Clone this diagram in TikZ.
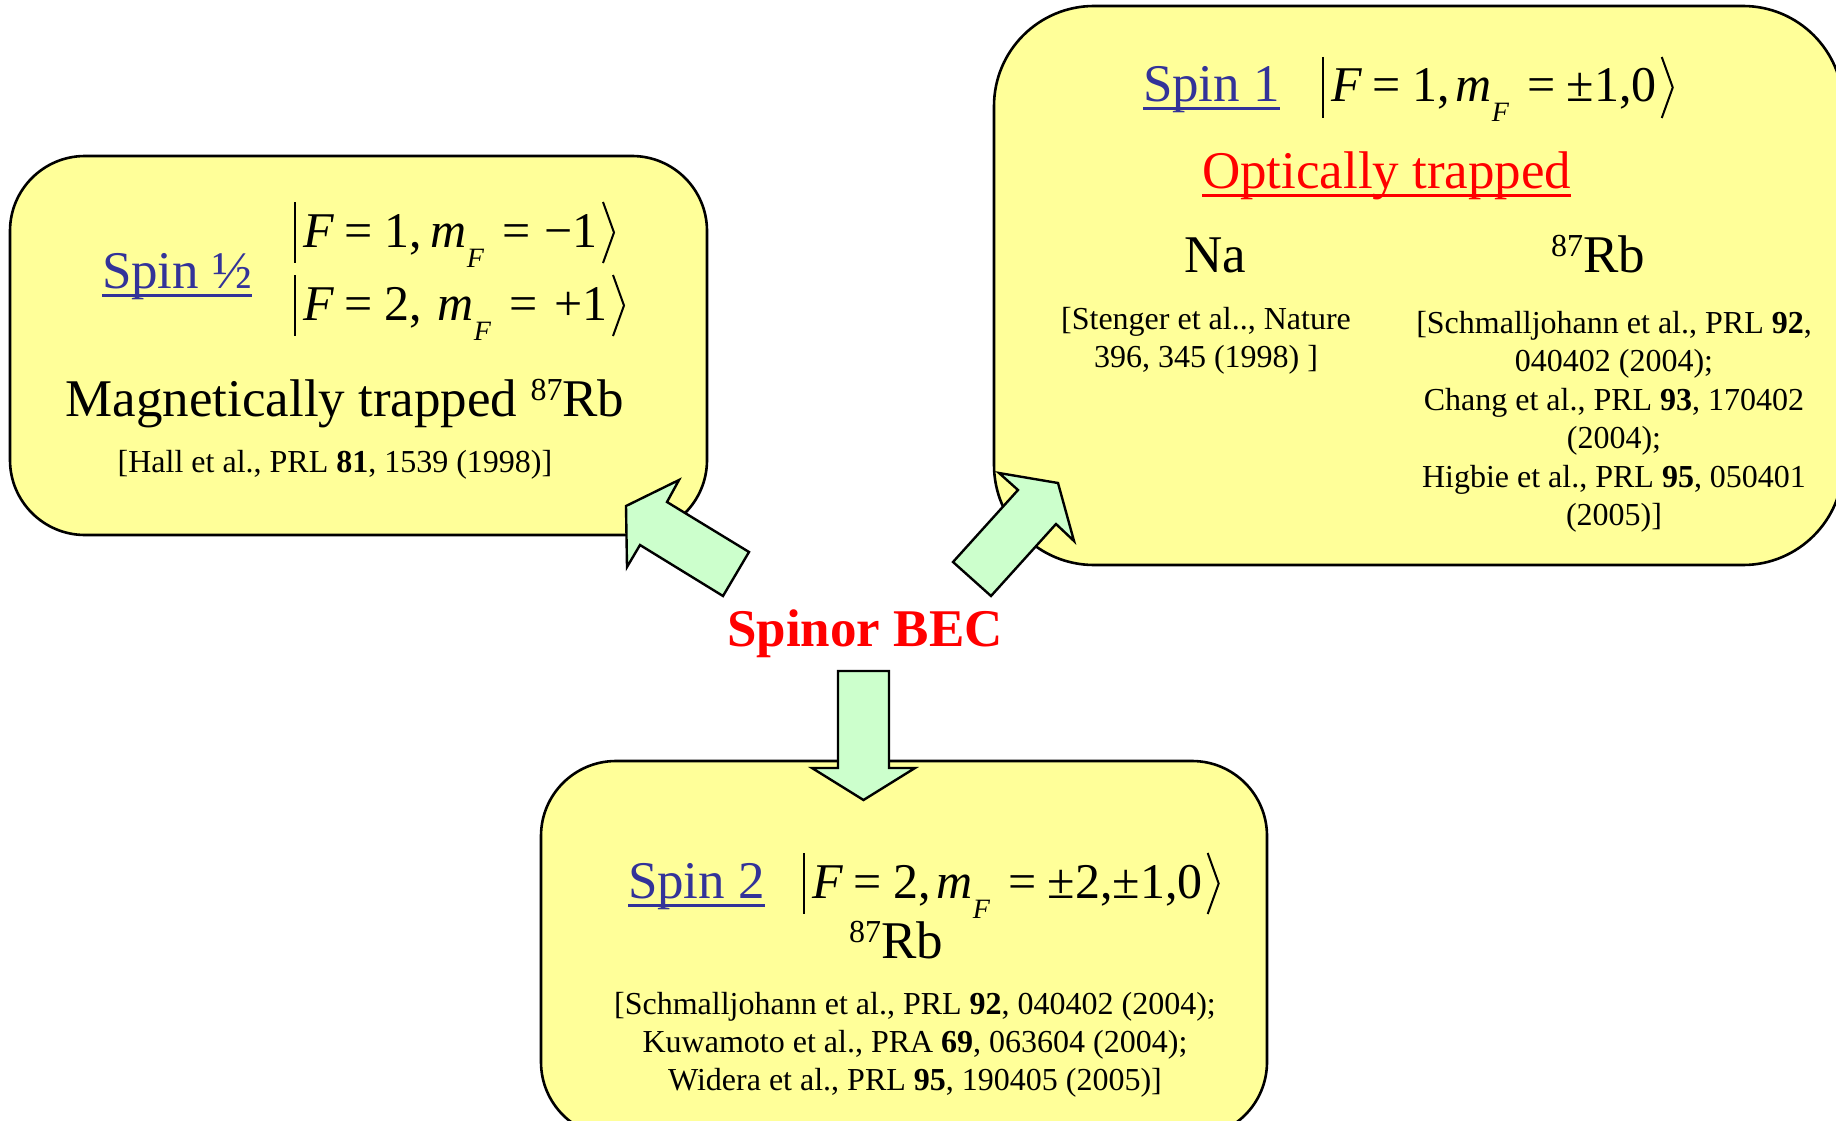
\documentclass[tikz,border=0pt]{standalone}
\usepackage{fontspec}
\setmainfont{Liberation Serif}
\definecolor{boxyellow}{HTML}{FFFF99}
\definecolor{arrowgreen}{HTML}{CCFFCC}
\definecolor{spinblue}{HTML}{333399}
\definecolor{pptred}{HTML}{FF0000}
\newcommand\eqs{\hspace{0.22em}=\hspace{0.22em}}
\newcommand\mF{\textit{m}\raisebox{-0.4em}{\fontsize{28}{28}\selectfont\textit{F}}\hspace{0.15em}}
\newcommand\iso[1]{\raisebox{0.3em}{\fontsize{32}{32}\selectfont #1}}
\newcommand\ketdeco[1]{%
  \draw[ketline] ([shift={(-8,-45)}]#1.base west) -- ([shift={(-8,16)}]#1.base west);
  \draw[ketline] ([shift={(5,-45)}]#1.base east) -- ([shift={(16,-14.5)}]#1.base east) -- ([shift={(5,16)}]#1.base east);}
\newcommand\ulinedeco[2]{%
  \draw[uline,#2] ([shift={(0,7)}]#1.base west) -- ([shift={(0,7)}]#1.base east);}
\begin{document}
\begin{tikzpicture}[x=1pt,y=-1pt,
  box/.style={draw=black, line width=2.6pt, fill=boxyellow, rounded corners=75pt, inner sep=0pt, outer sep=0pt},
  blockarrow/.style={draw=black, line width=2.4pt, fill=arrowgreen, line join=miter},
  txt/.style={inner sep=0pt, outer sep=0pt, anchor=base},
  txtl/.style={inner sep=0pt, outer sep=0pt, anchor=base west},
  big/.style={font=\fontsize{53}{64}\selectfont},
  mth/.style={font=\fontsize{50}{60}\selectfont},
  cite/.style={font=\fontsize{32}{38}\selectfont},
  spinlbl/.style={txtl, big, text=spinblue},
  ketline/.style={line width=2pt},
  uline/.style={line width=3pt}]
\useasboundingbox (0,0) rectangle (1836,1121);

% boxes
\node[box, minimum width=697pt, minimum height=379pt] (boxL) at (358.5,345.5) {};
\node[box, rounded corners=100pt, minimum width=849pt, minimum height=559pt] (boxR) at (1418.5,285.5) {};
\node[box, minimum width=726pt, minimum height=376pt] (boxB) at (904,949) {};

% left box
\node[spinlbl] (s12) at (102,288) {Spin ½};
\ulinedeco{s12}{spinblue}
\node[txtl, mth] (k1a) at (303,247) {\textit{F}\eqs 1,\hspace{9pt}\mF\eqs\hspace{3pt}−1};
\node[txtl, mth] (k1b) at (303,320) {\textit{F}\eqs 2,\hspace{16pt}\mF\eqs\hspace{6pt}+1\hspace{2pt}};
\ketdeco{k1a}
\ketdeco{k1b}
\node[txt, big] (mag) at (345,416) {Magnetically trapped \iso{87}Rb};
\node[txt, cite] (hall) at (335,472) {[Hall et al., PRL \textbf{81}, 1539 (1998)]};

% top right box
\node[spinlbl] (s1) at (1143,102) {Spin 1};
\ulinedeco{s1}{spinblue}
\node[txtl, mth] (k2) at (1331,102) {\textit{F}\eqs 1,\hspace{0.12em}\mF\eqs ±1,0};
\ketdeco{k2}
\node[txtl, big, text=pptred] (opt) at (1202,188) {Optically trapped};
\ulinedeco{opt}{pptred}
\node[txt, big] (na) at (1215,272) {Na};
\node[txt, big] (rb1) at (1598,272) {\iso{87}Rb};
\node[txt, cite] (na1) at (1206,329) {[Stenger et al.., Nature};
\node[txt, cite] (na2) at (1206,367) {396, 345 (1998) ]};
\node[txt, cite] (r1) at (1614,333) {[Schmalljohann et al., PRL \textbf{92},};
\node[txt, cite] (r2) at (1614,371) {040402 (2004);};
\node[txt, cite] (r3) at (1614,410) {Chang et al., PRL \textbf{93}, 170402};
\node[txt, cite] (r4) at (1614,448) {(2004);};
\node[txt, cite] (r5) at (1614,487) {Higbie et al., PRL \textbf{95}, 050401};
\node[txt, cite] (r6) at (1614,525) {(2005)]};

% bottom box
\node[spinlbl] (s2) at (628,898) {Spin 2};
\ulinedeco{s2}{spinblue}
\node[txtl, mth] (k3) at (812,898) {\textit{F}\eqs 2,\hspace{0.12em}\mF\eqs ±2,±1,0\hspace{3pt}};
\ketdeco{k3}
\node[txt, big] (rb2) at (896,958) {\iso{87}Rb};
\node[txt, cite] (b1) at (915,1014) {[Schmalljohann et al., PRL \textbf{92}, 040402 (2004);};
\node[txt, cite] (b2) at (915,1052) {Kuwamoto et al., PRA \textbf{69}, 063604 (2004);};
\node[txt, cite] (b3) at (915,1090) {Widera et al., PRL \textbf{95}, 190405 (2005)]};

% centre label
\node[txt, font=\fontsize{53}{64}\selectfont\bfseries, text=pptred] (bec) at (865,646) {Spinor BEC};

% block arrows
\filldraw[blockarrow] (626,506) -- (679,480) -- (667,502) -- (749,552) -- (723,596) -- (640,545) -- (627,567) -- cycle;
\filldraw[blockarrow] (1058,483) -- (1074,541) -- (1056,524) -- (991,596) -- (953,562) -- (1018,490) -- (999,473) -- cycle;
\filldraw[blockarrow] (838,671) -- (889,671) -- (889,768) -- (915,768) -- (863.5,800) -- (812,768) -- (838,768) -- cycle;
\end{tikzpicture}
\end{document}
